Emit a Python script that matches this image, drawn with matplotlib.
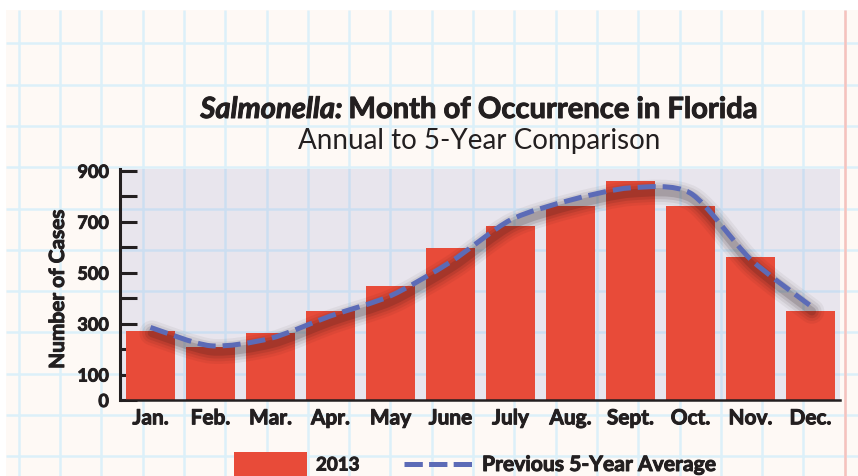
import numpy as np
import matplotlib
matplotlib.use('Agg')
import matplotlib.pyplot as plt
from matplotlib.path import Path
from matplotlib.patches import PathPatch, Rectangle
import matplotlib.transforms as mtransforms
import matplotlib.patheffects as pe

# ---------------- data ----------------
months = ['Jan.', 'Feb.', 'Mar.', 'Apr.', 'May', 'June', 'July', 'Aug.',
          'Sept.', 'Oct.', 'Nov.', 'Dec.']
cases_2013 = [272, 210, 263, 349, 448, 597, 685, 761, 860, 761, 561, 349]
avg_5yr = [285, 213, 242, 330, 409, 542, 707, 785, 833, 812, 553, 370]
y_ticks = [0, 100, 200, 300, 400, 500, 600, 700, 800, 900]
y_tick_labels = ['0', '100', '', '300', '', '500', '', '700', '', '900']
legend_bar = '2013'
legend_line = 'Previous 5-Year Average'
title_italic = 'Salmonella:'
title_rest = 'Month of Occurrence in Florida'
subtitle = 'Annual to 5-Year Comparison'
y_label = 'Number of Cases'

plt.rcParams['font.family'] = ['Lato', 'DejaVu Sans']
plt.rcParams['lines.scale_dashes'] = False

INK = '#231f20'
BAR = '#e84b39'
LINE = '#5c6bb7'
CREAM = '#fef9f5'
GRID = '#dcf0f9'
HEAVY = 'bold'
THICK = [pe.withStroke(linewidth=0.7, foreground=INK)]

W, H = 858, 477
fig = plt.figure(figsize=(W / 100, H / 100), dpi=100, facecolor='white')

# ---------------- graph-paper background ----------------
bg = fig.add_axes([0, 0, 1, 1], zorder=0)
bg.set_xlim(0, W)
bg.set_ylim(H, 0)
bg.axis('off')
bg.add_patch(Rectangle((6, 11), W - 6, H - 11, facecolor=CREAM, edgecolor='none', zorder=0))
for gx in np.arange(18.7, W, 41.3):
    bg.plot([gx, gx], [11, H], color=GRID, lw=1.8, solid_capstyle='butt', zorder=1)
for gy in np.arange(44.3, H, 41.3):
    bg.plot([6, W], [gy, gy], color=GRID, lw=1.8, solid_capstyle='butt', zorder=1)
bg.plot([845.3, 845.3], [11, H], color='#f8c2bc', lw=1.8, solid_capstyle='butt', zorder=1)

# ---------------- main axes ----------------
ax = fig.add_axes([120 / W, 1 - 401 / H, 720 / W, 231 / H], zorder=1)
ax.set_facecolor((0.565, 0.60, 0.82, 0.2))
ax.set_xlim(-0.508, 11.492)
ax.set_ylim(0, 907)

x = np.arange(len(months))
ax.bar(x, cases_2013, width=49 / 60, color=BAR, zorder=2)

# smooth path through the 5-year average points
P = np.column_stack([x, np.array(avg_5yr, float)])
verts = [P[0]]
codes = [Path.MOVETO]
n = len(P)
k = 1 / 7.5
for i in range(n - 1):
    p0 = P[i - 1] if i > 0 else P[i]
    p3 = P[i + 2] if i < n - 2 else P[i + 1]
    c1 = P[i] + (P[i + 1] - p0) * k
    c2 = P[i + 1] - (p3 - P[i]) * k
    verts += [c1, c2, P[i + 1]]
    codes += [Path.CURVE4] * 3
curve = Path(verts, codes)

shadow_tr = mtransforms.offset_copy(ax.transData, fig=fig, x=1, y=-4, units='points')
for lw, a in [(18, 0.05), (14, 0.07), (10, 0.10), (6, 0.15)]:
    ax.add_patch(PathPatch(curve, fill=False, edgecolor=(0.12, 0.06, 0.06, a), lw=lw,
                           transform=shadow_tr, zorder=3, capstyle='round'))
ax.add_patch(PathPatch(curve, fill=False, edgecolor=LINE, lw=3.6,
                       linestyle=(0, (13, 5)), capstyle='butt', zorder=4))

for s in ['top', 'right']:
    ax.spines[s].set_visible(False)
ax.spines['left'].set_linewidth(2.2)
ax.spines['left'].set_color(INK)
ax.spines['bottom'].set_linewidth(1.8)
ax.spines['bottom'].set_color(INK)
ax.spines['left'].set_zorder(5)
ax.spines['bottom'].set_zorder(5)

ax.set_yticks(y_ticks, y_tick_labels)
ax.tick_params(axis='y', direction='in', length=12, width=2.2, color=INK,
               pad=8, labelsize=13, labelcolor=INK)
ax.set_xticks(x, months)
ax.tick_params(axis='x', length=0, pad=6, labelsize=15, labelcolor=INK)
for lab in ax.get_yticklabels() + ax.get_xticklabels():
    lab.set_fontweight(HEAVY)
    lab.set_path_effects(THICK)

bg.text(58, 290, y_label, rotation=90, ha='center', va='center',
        fontsize=15, fontweight=HEAVY, color=INK, path_effects=THICK)

# ---------------- legend ----------------
bg.add_patch(Rectangle((234, 453), 73, 30, facecolor=BAR, edgecolor='none', zorder=3))
bg.text(316, 466, legend_bar, ha='left', va='center', fontsize=13.5,
        fontweight=HEAVY, color=INK, zorder=3, path_effects=THICK)
bg.plot([404, 472], [465, 465], color=LINE, lw=3.6, dashes=(13.2, 4.5),
        solid_capstyle='butt', dash_capstyle='butt', zorder=3)
bg.text(482, 466, legend_line, ha='left', va='center', fontsize=15.2,
        fontweight=HEAVY, color=INK, zorder=3, path_effects=THICK)

# ---------------- titles ----------------
t1 = bg.text(0, 119, title_italic, ha='left', va='baseline', fontsize=21,
             fontweight=HEAVY, style='italic', color=INK, zorder=3, path_effects=THICK)
t2 = bg.text(0, 119, title_rest, ha='left', va='baseline', fontsize=21,
             fontweight=HEAVY, color=INK, zorder=3, path_effects=THICK)
bg.text(479, 149, subtitle, ha='center', va='baseline', fontsize=20,
        color=INK, zorder=3)

fig.canvas.draw()
r = fig.canvas.get_renderer()
w1 = t1.get_window_extent(r).width
w2 = t2.get_window_extent(r).width
gap = 6
start = 479 - (w1 + gap + w2) / 2
t1.set_x(start)
t2.set_x(start + w1 + gap)

fig.savefig('out.png', dpi=100, facecolor='white')
